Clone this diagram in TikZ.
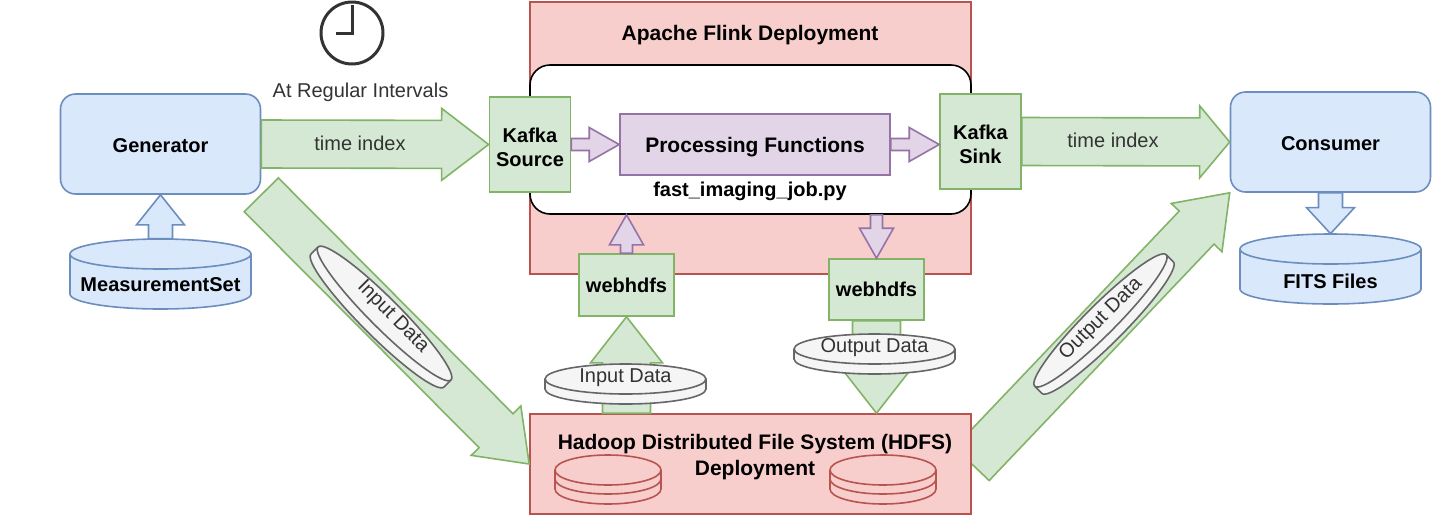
\documentclass[tikz,border=0pt]{standalone}
\usepackage{fontspec}
\setmainfont{Liberation Sans}
\usetikzlibrary{calc,backgrounds}

\definecolor{bluefill}{HTML}{DAE8FC}
\definecolor{blueline}{HTML}{6C8EBF}
\definecolor{greenfill}{HTML}{D5E8D4}
\definecolor{greenline}{HTML}{82B366}
\definecolor{redfill}{HTML}{F8CECC}
\definecolor{redline}{HTML}{B85450}
\definecolor{purplefill}{HTML}{E1D5E7}
\definecolor{purpleline}{HTML}{9673A6}
\definecolor{diskfill}{HTML}{F5F5F5}
\definecolor{diskline}{HTML}{666666}
\definecolor{darktext}{HTML}{333333}

\tikzstyle{bluebox} = [rectangle, draw=blueline, fill=bluefill, line width=0.8pt, rounded corners=7.5pt, minimum width=100pt, minimum height=50pt, text height=8.7pt, text depth=0pt]
\tikzstyle{greenbox} = [rectangle, draw=greenline, fill=greenfill, line width=0.8pt, align=center]
\tikzstyle{redbox} = [rectangle, draw=redline, fill=redfill, line width=0.8pt, minimum width=220.5pt]
\tikzstyle{bluecan} = [draw=blueline, fill=bluefill, line width=0.8pt]
\tikzstyle{graycan} = [draw=diskline, fill=diskfill, line width=0.8pt]
\tikzstyle{cantext} = [rectangle, inner sep=0pt, minimum width=90.5pt, minimum height=35pt, text height=17pt, text depth=0pt]
\tikzstyle{disktext} = [rectangle, inner sep=0pt, minimum width=80.5pt, minimum height=20pt, text=darktext, text height=7pt, text depth=9pt]
\tikzstyle{bigtitle} = [font=\fontsize{10.5}{12.6}\selectfont]
\tikzstyle{greenarrow} = [draw=greenline, fill=greenfill, line width=0.8pt]
\tikzstyle{purplearrow} = [draw=purpleline, fill=purplefill, line width=0.8pt]
\tikzstyle{bluearrow} = [draw=blueline, fill=bluefill, line width=0.8pt]

% block arrow: style, from, to, half shaft, half head, head length
\newcommand{\blockarrow}[6]{
    \coordinate (headbase) at ($(#3)!#6!(#2)$);
    \draw[#1] ($(#2)!#4!90:(#3)$) -- ($(headbase)!#4!90:(#3)$) -- ($(headbase)!#5!90:(#3)$)
        -- (#3) -- ($(headbase)!#5!-90:(#3)$) -- ($(headbase)!#4!-90:(#3)$) -- ($(#2)!#4!-90:(#3)$) -- cycle;
}
\tikzset{
    % can: half width, half height
    pics/can/.style 2 args={code={
        \path[pic actions] (-#1,15-#2) -- (-#1,#2-15) arc[start angle=180, end angle=0, x radius=#1, y radius=15]
            -- (#1,15-#2) arc[start angle=0, end angle=-180, x radius=#1, y radius=15] -- cycle;
        \path[pic actions, fill=none] (-#1,15-#2) arc[start angle=180, end angle=0, x radius=#1, y radius=15];
    }},
    % three stacked plates
    pics/platestack/.style={code={
        \draw[redline, line width=0.8pt] (-53,0) -- (-53,19) arc[start angle=180, end angle=0, x radius=53, y radius=15] -- (53,0);
        \draw[redline, line width=0.8pt] (-53,9) arc[start angle=180, end angle=0, x radius=53, y radius=15];
        \draw[redline, line width=0.8pt] (0,0) ellipse [x radius=53, y radius=15];
    }}
}

\begin{document}
\begin{tikzpicture}[x=0.5pt, y=-0.5pt]
    \useasboundingbox (0,0) rectangle (1432,515);

    % Flink side
    \node (flink) at (750.5,138) [redbox, minimum height=136pt] {};
    \node (flinktitle) at (750,35.5) [bigtitle] {\textbf{Apache Flink Deployment}};
    \node (job) at (750.5,139.5) [rectangle, draw=black, fill=white, line width=0.8pt, rounded corners=10pt, minimum width=220.5pt, minimum height=74.5pt] {};
    \node (proc) at (755,144.5) [rectangle, draw=purpleline, fill=purplefill, line width=0.8pt, minimum width=135pt, minimum height=30.5pt, bigtitle, text depth=0pt] {\textbf{Processing Functions}};
    \node (jobname) at (750,191) {\textbf{fast\_imaging\_job.py}};
    \node (source) at (530,144.5) [greenbox, minimum width=40pt, minimum height=47.5pt] {\rule{0pt}{10pt}\textbf{Kafka}\\\textbf{Source}};
    \node (sink) at (980.5,141.5) [greenbox, minimum width=40.5pt, minimum height=47.5pt] {\rule{0pt}{10pt}\textbf{Kafka}\\\textbf{Sink}};
    \node (webin) at (626.5,285) [greenbox, minimum width=46.5pt, minimum height=31pt] {\textbf{webhdfs}};
    \node (webout) at (876.5,289.5) [greenbox, minimum width=46.5pt, minimum height=30.5pt] {\textbf{webhdfs}};

    % HDFS side
    \node (hdfs) at (750.5,464) [redbox, minimum height=50pt] {};
    \node (hdfstitle) at (755,457) [align=center, bigtitle] {\textbf{Hadoop Distributed File System (HDFS)}\\[0.6pt]\textbf{Deployment}};
    \pic at (608,470) {platestack};
    \pic at (883,470) {platestack};

    % Outer nodes
    \node (generator) at (160.5,144) [bluebox] {\textbf{Generator}};
    \node (consumer) at (1330.5,142) [bluebox] {\textbf{Consumer}};
    \pic[bluecan] at (160.5,274) {can={90.5}{35}};
    \node (measure) at (160.5,274) [cantext] {\textbf{MeasurementSet}};
    \pic[bluecan] at (1330.5,269) {can={90.5}{35}};
    \node (fits) at (1330.5,269) [cantext, text height=19pt] {\textbf{FITS Files}};

    % Clock
    \node (clock) at (352,33) [circle, draw=darktext, line width=1.5pt, minimum size=31pt, inner sep=0pt] {};
    \draw[darktext, line width=1.5pt] ([yshift=14pt]clock.center) -- (clock.center) -- ([xshift=-8pt]clock.center);
    \node (interval) at (360.5,92) [text=darktext] {At Regular Intervals};

    % Connectors
    \coordinate (sinkin) at (sink.west |- proc.east);
    \coordinate (jobin) at (webin.north |- job.south);
    \coordinate (jobout) at (webout.north |- job.south);
    \coordinate (hdfsin) at (webout.south |- hdfs.north);
    \coordinate (hdfsout) at (webin.south |- hdfs.north);

    \blockarrow{greenarrow}{generator.east}{source.west}{12pt}{18pt}{23.5pt}
    \blockarrow{greenarrow}{sink.east}{consumer.west}{12pt}{18pt}{15pt}
    \blockarrow{greenarrow}{generator.south east}{hdfs.west}{12pt}{17.5pt}{23.5pt}
    \begin{pgfonlayer}{background}
        \blockarrow{greenarrow}{hdfs.east}{consumer.south west}{12pt}{17.5pt}{24pt}
    \end{pgfonlayer}
    \blockarrow{greenarrow}{hdfsout}{webin.south}{12pt}{18pt}{23pt}
    \blockarrow{greenarrow}{webout.south}{hdfsin}{12pt}{18pt}{23pt}
    \blockarrow{purplearrow}{source.east}{proc.west}{3pt}{8.5pt}{15pt}
    \blockarrow{purplearrow}{proc.east}{sinkin}{3pt}{8.5pt}{15pt}
    \blockarrow{purplearrow}{webin.north}{jobin}{3pt}{8.5pt}{15pt}
    \blockarrow{purplearrow}{jobout}{webout.north}{3pt}{8.5pt}{15pt}
    \blockarrow{bluearrow}{measure.north}{generator.south}{6pt}{12pt}{15pt}
    \blockarrow{bluearrow}{consumer.south}{fits.north}{6pt}{12pt}{13pt}

    \node (indatatext) at (360,143) [text=darktext] {time index};
    \node (outdatatext) at (1113,140) [text=darktext] {time index};

    % Data disks
    \pic[graycan] at (625.5,384) {can={80.5}{20}};
    \node (webindisk) at (625.5,384) [disktext] {Input Data};
    \pic[graycan] at (874.5,354) {can={80.5}{20}};
    \node (weboutdisk) at (874.5,354) [disktext] {Output Data};
    \pic[graycan, rotate=-45] at (381,317) {can={94}{20}};
    \node (gendisk) at (388,322) [disktext, rotate=-45] {Input Data};
    \pic[graycan, rotate=45] at (1104,324) {can={93}{20}};
    \node (outdisk) at (1106,324) [disktext, rotate=45] {Output Data};
\end{tikzpicture}
\end{document}
